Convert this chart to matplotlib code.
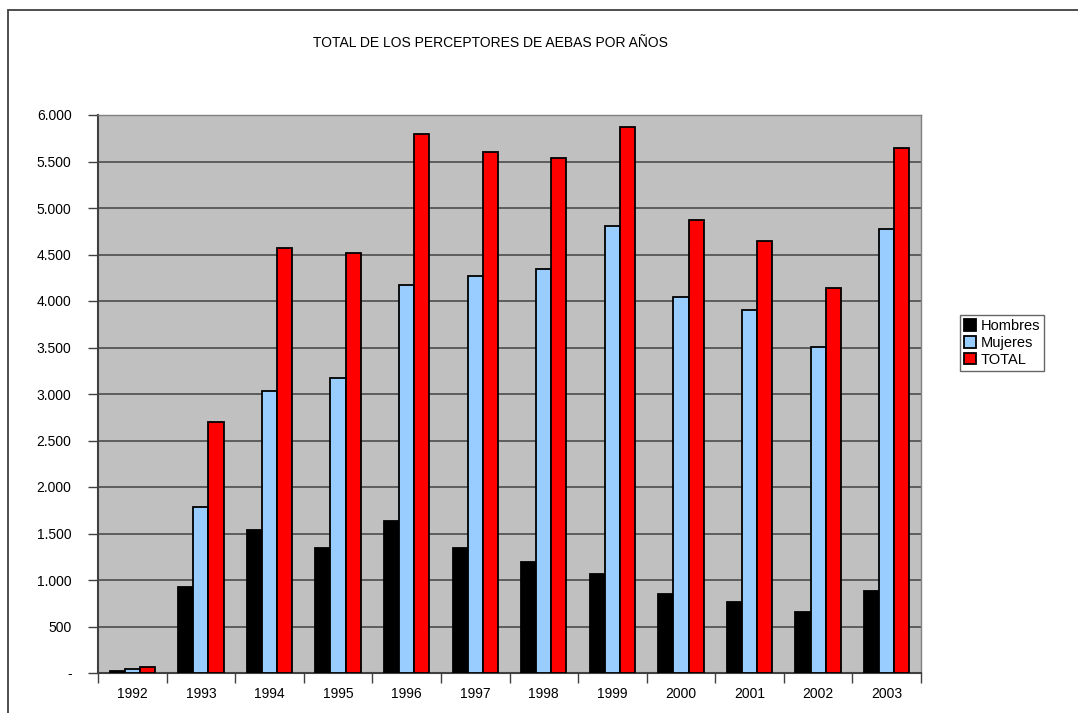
import numpy as np
import matplotlib.pyplot as plt
from matplotlib.patches import Rectangle
from matplotlib.ticker import FuncFormatter, MultipleLocator

plt.rcParams['font.family'] = ['Liberation Sans', 'DejaVu Sans']

years = ['1992', '1993', '1994', '1995', '1996', '1997', '1998', '1999',
         '2000', '2001', '2002', '2003']
hombres = [20, 925, 1537, 1347, 1630, 1347, 1197, 1068, 846, 767, 659, 885]
mujeres = [42, 1780, 3036, 3175, 4172, 4266, 4347, 4804, 4043, 3903, 3510, 4769]
total = [62, 2699, 4572, 4521, 5800, 5607, 5542, 5872, 4876, 4650, 4143, 5645]

series = [('Hombres', hombres, '#000000'),
          ('Mujeres', mujeres, '#99CCFF'),
          ('TOTAL', total, '#FF0000')]

fig = plt.figure(figsize=(10.78, 7.13), dpi=100)
ax = fig.add_axes([98 / 1078, 1 - 673 / 713, 823 / 1078, 558 / 713])

# outer chart frame
fig.patches.append(Rectangle((8 / 1078, -0.1), 1.2, 1 - 10 / 713 + 0.1,
                             transform=fig.transFigure, fill=False,
                             edgecolor='#404040', linewidth=1.3))

x = np.arange(len(years))
w = 0.22
for i, (name, vals, col) in enumerate(series):
    ax.bar(x + (i - 1) * w, vals, width=w, color=col, edgecolor='black',
           linewidth=1.3, label=name, zorder=3)

ax.set_facecolor('#C0C0C0')
ax.set_xlim(-0.5, len(years) - 0.5)
ax.set_ylim(0, 6000)
ax.yaxis.set_major_locator(MultipleLocator(500))
ax.yaxis.set_major_formatter(FuncFormatter(
    lambda v, p: '-' if v == 0 else f'{int(v):,}'.replace(',', '.')))
ax.grid(axis='y', color='#555555', linewidth=1.3, zorder=1)

ax.set_xticks(x)
ax.set_xticklabels(years)
ax.set_xticks(np.arange(-0.5, len(years)), minor=True)
ax.tick_params(axis='x', which='major', length=0, pad=10, labelsize=10)
ax.tick_params(axis='x', which='minor', length=7, width=1, color='#404040')
ax.tick_params(axis='y', length=7, width=1, color='#404040', labelsize=10, pad=12)

for s in ['top', 'right']:
    ax.spines[s].set_color('#808080')
    ax.spines[s].set_linewidth(1)
for s in ['left', 'bottom']:
    ax.spines[s].set_color('#404040')
    ax.spines[s].set_linewidth(1.5)

fig.text(490 / 1078, 1 - 43 / 713, 'TOTAL DE LOS PERCEPTORES DE AEBAS POR AÑOS',
         ha='center', va='center', fontsize=10)

leg = fig.legend(loc='center left', bbox_to_anchor=(960 / 1078, 1 - 343 / 713),
                 fontsize=10.5, frameon=True, fancybox=False, handlelength=0.8,
                 handleheight=0.8, handletextpad=0.3, borderpad=0.3,
                 labelspacing=0.2, borderaxespad=0)
leg.get_frame().set_edgecolor('#404040')
leg.get_frame().set_linewidth(1)

fig.savefig('out.png', dpi=100)
